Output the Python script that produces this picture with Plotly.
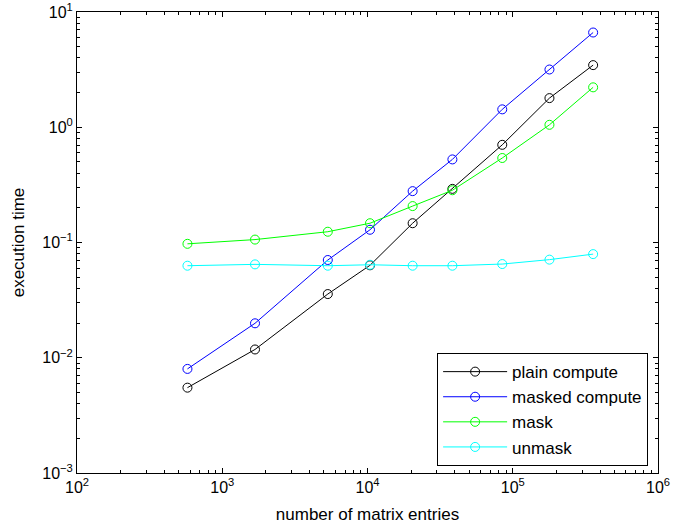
import plotly.graph_objects as go

entries = [576, 1681, 5329, 10404, 20449, 38416, 84681, 178929, 357604]
plain_compute = [0.0055, 0.0118, 0.0357, 0.0634, 0.147, 0.292, 0.704, 1.79, 3.46]
masked_compute = [0.0080, 0.0199, 0.0705, 0.129, 0.279, 0.526, 1.43, 3.17, 6.64]
mask = [0.0974, 0.106, 0.124, 0.147, 0.207, 0.284, 0.541, 1.05, 2.22]
unmask = [0.0629, 0.0646, 0.0629, 0.0641, 0.0629, 0.0629, 0.0650, 0.0710, 0.0793]

x_exponents = [2, 3, 4, 5, 6]
y_exponents = [-3, -2, -1, 0, 1]

series = [
    ("plain compute", plain_compute, "#000000"),
    ("masked compute", masked_compute, "#0000FF"),
    ("mask", mask, "#00FF00"),
    ("unmask", unmask, "#00FFFF"),
]

FONT = "Liberation Sans, Arial, Helvetica, sans-serif"


def sup_label(e):
    s = str(e).replace("-", "\u2212")
    return "10<sup>" + s + "</sup>"


def minor_vals(exps):
    vals = []
    for e in exps[:-1]:
        for m in range(2, 10):
            vals.append(m * 10.0 ** e)
    return vals


fig = go.Figure()
for name, vals, col in series:
    fig.add_trace(go.Scatter(
        x=entries, y=vals, name=name, mode="lines+markers",
        line=dict(color=col, width=1),
        marker=dict(symbol="circle-open", size=9, color=col, line=dict(width=1, color=col)),
    ))

axis_common = dict(
    type="log",
    showline=True, linecolor="black", linewidth=1, mirror="ticks",
    ticks="inside", ticklen=5, tickcolor="black",
    showgrid=False, zeroline=False, automargin=False,
    tickfont=dict(family=FONT, size=16, color="black"),
)

fig.update_xaxes(
    range=[2 - 1e-6, 6 + 1e-6],
    tickmode="array",
    tickvals=[10.0 ** e for e in x_exponents],
    ticktext=[sup_label(e) for e in x_exponents],
    minor=dict(ticks="inside", ticklen=3, tickcolor="black", tickmode="array",
               tickvals=minor_vals(x_exponents), showgrid=False),
    title=dict(text="number of matrix entries", font=dict(family=FONT, size=17, color="black"), standoff=12),
    **axis_common,
)
fig.update_yaxes(
    range=[-3 - 1e-6, 1 + 1e-6],
    tickmode="array",
    tickvals=[10.0 ** e for e in y_exponents],
    ticktext=[sup_label(e) for e in y_exponents],
    minor=dict(ticks="inside", ticklen=3, tickcolor="black", tickmode="array",
               tickvals=minor_vals(y_exponents), showgrid=False),
    title=dict(text="execution time", font=dict(family=FONT, size=17, color="black"), standoff=13),
    **axis_common,
)

fig.update_layout(
    width=686, height=526,
    margin=dict(l=77, r=28, t=12, b=53),
    paper_bgcolor="white", plot_bgcolor="white",
    font=dict(family=FONT, size=17, color="black"),
    legend=dict(
        x=0.983, y=0.015, xanchor="right", yanchor="bottom",
        bgcolor="white", bordercolor="black", borderwidth=1,
        font=dict(family=FONT, size=17, color="black"),
        tracegroupgap=0, itemwidth=64,
    ),
    showlegend=True,
)

fig.write_html(
    "out.html",
    config={"displayModeBar": False},
    post_script="document.body.style.margin='0';document.body.style.padding='0';",
)
